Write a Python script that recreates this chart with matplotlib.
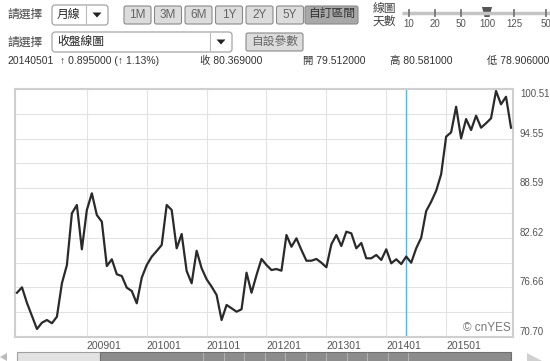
import numpy as np
import pandas as pd
import matplotlib
matplotlib.use("Agg")
import matplotlib.pyplot as plt
from matplotlib.patches import Rectangle, FancyBboxPatch, Polygon

plt.rcParams['font.family'] = ['Liberation Sans', 'Noto Sans CJK TC', 'DejaVu Sans']

# monthly closes, 2007-11 .. 2016-02
months = pd.date_range('2007-11-01', '2016-02-01', freq='MS')
close = [76.02, 76.67, 74.79, 73.23, 71.66, 72.42, 72.74, 72.35, 73.14, 77.15,
         79.35, 85.57, 86.57, 81.24, 85.97, 87.97, 85.36, 84.56, 79.23, 80.04,
         78.24, 78.03, 76.63, 76.23, 74.75, 77.83, 79.35, 80.35, 81.04, 81.76,
         86.57, 85.97, 81.36, 83.08, 78.63, 77.16, 81.07, 78.96, 77.64, 76.75,
         75.75, 72.74, 74.55, 74.15, 73.74, 74.03, 78.43, 76.02, 78.15, 80.08,
         79.35, 78.75, 78.87, 78.67, 82.96, 81.55, 82.56, 81.16, 79.87, 79.87,
         80.08, 79.63, 79.08, 81.84, 82.96, 81.64, 83.36, 83.16, 81.36, 82.00,
         80.16, 80.16, 80.56, 79.96, 81.24, 79.56, 80.04, 79.47, 80.37, 79.63,
         81.36, 82.63, 85.84, 86.96, 88.27, 90.26, 94.78, 95.30, 98.38, 94.58,
         96.90, 95.58, 97.30, 95.86, 96.39, 96.99, 100.27, 98.67, 99.58, 95.86]

y_lo, y_hi = 70.70, 100.51
y_labels = ['70.70', '', '76.66', '', '82.62', '', '88.59', '', '94.55', '', '100.51']
year_labels = ['200901', '201001', '201101', '201201', '201301', '201401', '201501']
cursor = '2014-05'

header_info = ['20140501', '\u2191 0.895000 (\u2191 1.13%)', '收 80.369000',
               '開 79.512000', '高 80.581000', '低 78.906000']
range_buttons = ['1M', '3M', '6M', '1Y', '2Y', '5Y']
slider_days = ['10', '20', '50', '100', '125', '50']

m_idx = (months.year - 2009) * 12 + (months.month - 1)
cur = pd.Timestamp(cursor)
cur_m = (cur.year - 2009) * 12 + cur.month - 1

fig = plt.figure(figsize=(5.5, 3.61), dpi=100)

# ---- page chrome (pixel coords) ----
ui = fig.add_axes([0, 0, 1, 1])
ui.set_xlim(0, 550)
ui.set_ylim(361, 0)
ui.axis('off')

txt = dict(color='#444', fontsize=8.5, va='center')
ui.text(7, 15, '請選擇', **txt)
ui.text(7, 43, '請選擇', **txt)

def dropdown(x0, x1, y0, y1, label):
    ui.add_patch(FancyBboxPatch((x0, y0), x1 - x0, y1 - y0,
                                boxstyle='round,pad=0,rounding_size=3',
                                fc='white', ec='#9a9a9a', lw=0.8))
    ui.plot([x1 - 22, x1 - 22], [y0 + 1, y1 - 1], color='#bbb', lw=0.8)
    ui.text(x0 + 5, (y0 + y1) / 2, label, color='#222', fontsize=8.5, va='center')
    cx, cy = x1 - 11, (y0 + y1) / 2
    ui.add_patch(Polygon([(cx - 4.5, cy - 2.5), (cx + 4.5, cy - 2.5), (cx, cy + 2.5)],
                         closed=True, fc='#222', ec='none'))

def button(x0, x1, y0, y1, label, dark=False):
    ui.add_patch(FancyBboxPatch((x0, y0), x1 - x0, y1 - y0,
                                boxstyle='round,pad=0,rounding_size=2',
                                fc='#a8a8a8' if dark else '#dcdcdc',
                                ec='#8a8a8a', lw=0.8))
    ui.text((x0 + x1) / 2, (y0 + y1) / 2, label, ha='center', va='center',
            color='#333' if dark else '#666', fontsize=8.5)

dropdown(52, 108, 5, 25, '月線')
dropdown(52, 232, 32, 52, '收盤線圖')

for i, lab in enumerate(range_buttons):
    x0 = 124 + i * 30.5
    button(x0, x0 + 27, 6, 24, lab)
button(305, 358, 6, 24, '自訂區間', dark=True)
button(246, 303, 33, 51, '自設參數')

ui.text(373, 9, '線圖', color='#444', fontsize=8.5, va='center')
ui.text(373, 22, '天數', color='#444', fontsize=8.5, va='center')
ui.plot([402, 550], [13, 13], color='#c4c4c4', lw=2.5, solid_capstyle='butt')
slider_x = [409, 435, 461, 487, 514, 546]
for sx, lab in zip(slider_x, slider_days):
    if lab != '100':
        ui.plot([sx, sx], [9.5, 16], color='#777', lw=1.3)
    ui.text(sx, 24, lab, ha='center', va='center', color='#555', fontsize=7)
ui.add_patch(Polygon([(482, 7), (492, 7), (489.5, 17), (484.5, 17)],
                     closed=True, fc='#555', ec='none'))

info_x = [7, 60, 200, 303, 390, 487]
for x, s in zip(info_x, header_info):
    ui.text(x, 61, s, color='#333', fontsize=7.5, va='center')

# scrollbar at the bottom
ui.add_patch(Rectangle((17, 352), 83, 12, fc='#e2e2e2', ec='#a0a0a0', lw=0.8))
ui.add_patch(Rectangle((100, 352), 411, 12, fc='#8c8c8c', ec='#707070', lw=0.8))
for sx in np.arange(203, 410, 20.5):
    ui.plot([sx, sx], [353, 361], color='#b0b0b0', lw=0.8)
ui.add_patch(Polygon([(527, 353), (543, 361.5), (527, 370)], closed=True,
                     fc='#d0d0d0', ec='none'))
ui.add_patch(Polygon([(0, 357), (7, 353), (7, 361)], closed=True,
                     fc='#bbbbbb', ec='none'))

# ---- chart ----
ax = fig.add_axes([15 / 550, 24 / 361, 498 / 550, 248 / 361])
ax.plot(m_idx, close, color='#2a2a2a', lw=1.6, zorder=3)
ax.axvline(cur_m, color='#5ab2e0', lw=1.0, zorder=2)

ax.set_xlim(-14.4, 85.4)
ax.set_ylim(y_lo, y_hi)

ax.set_yticks(np.linspace(y_lo, y_hi, len(y_labels)))
ax.set_yticklabels(y_labels)
ax.yaxis.tick_right()
ax.tick_params(axis='y', length=0, pad=5, labelsize=7, labelcolor='#555')
ylabs = ax.get_yticklabels()
for lbl in ylabs:
    lbl.set_va('bottom')
ylabs[-1].set_va('top')

ax.set_xticks(np.arange(len(year_labels)) * 12)
ax.set_xticklabels(year_labels, ha='left')
ax.tick_params(axis='x', length=0, pad=3, labelsize=7.5, labelcolor='#555')

ax.grid(True, color='#e3e3e3', lw=0.8)
ax.set_axisbelow(True)
for sp in ax.spines.values():
    sp.set_color('#cfcfcf')
    sp.set_linewidth(1.5)

ax.text(0.995, 0.012, '\u00a9 cnYES', transform=ax.transAxes, ha='right',
        va='bottom', color='#777', fontsize=8.5)

fig.savefig('out.png', dpi=100)
